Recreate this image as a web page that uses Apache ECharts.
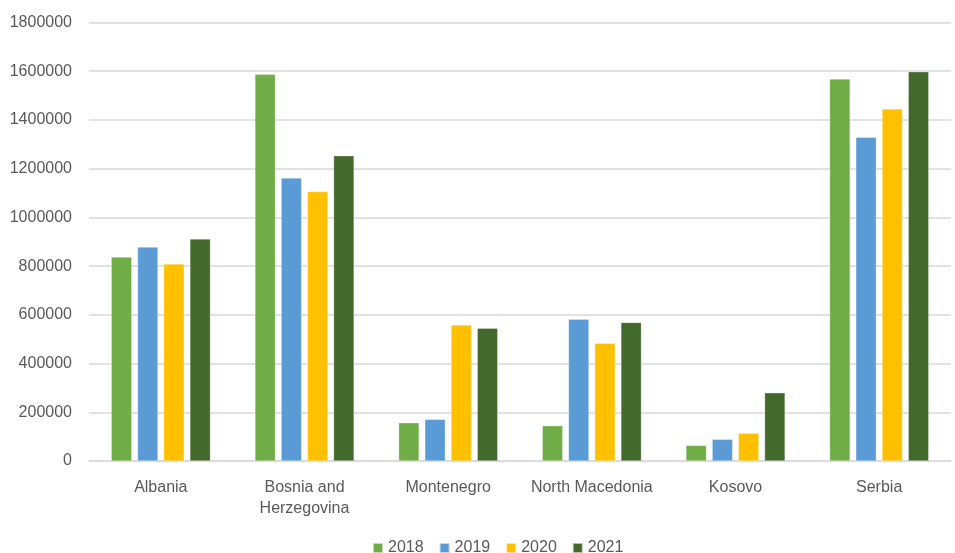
<!DOCTYPE html>
<html>
<head>
<meta charset="utf-8">
<script src="https://cdn.jsdelivr.net/npm/echarts@6/dist/echarts.min.js"></script>
<style>
  html, body { margin: 0; padding: 0; background: #fff; }
  #chart { width: 955px; height: 553px; }
</style>
</head>
<body>
<div id="chart"></div>
<script>
// Countries along the x axis
const countries = ['Albania', 'Bosnia and\nHerzegovina', 'Montenegro', 'North Macedonia', 'Kosovo', 'Serbia'];

// Yearly values per country
const years = ['2018', '2019', '2020', '2021'];
const values2018 = [837000, 1588000, 157000, 145000, 64000, 1568000];
const values2019 = [878000, 1162000, 171000, 582000, 89000, 1329000];
const values2020 = [809000, 1106000, 558000, 483000, 114000, 1445000];
const values2021 = [911000, 1253000, 545000, 569000, 280000, 1598000];

const yearColors = ['#70AD47', '#5B9BD5', '#FFC000', '#44692C'];
const seriesValues = [values2018, values2019, values2020, values2021];

const font = 'Liberation Sans, Arial, sans-serif';
const textColor = '#595959';

const chart = echarts.init(document.getElementById('chart'), null, { renderer: 'canvas' });

chart.setOption({
  animation: false,
  backgroundColor: '#ffffff',
  grid: { left: 89, right: 4, top: 22.5, bottom: 92, containLabel: false },
  legend: {
    data: years,
    left: 367,
    top: 535,
    icon: 'rect',
    itemWidth: 10,
    itemHeight: 10,
    itemGap: 15,
    textStyle: { color: textColor, fontSize: 16, fontFamily: font }
  },
  xAxis: {
    type: 'category',
    data: countries,
    axisLine: { lineStyle: { color: '#d9d9d9', width: 1.5 } },
    axisTick: { show: false },
    axisLabel: { color: textColor, fontSize: 16, fontFamily: font, margin: 16, lineHeight: 21, interval: 0 }
  },
  yAxis: {
    type: 'value',
    min: 0,
    max: 1800000,
    interval: 200000,
    axisLine: { show: false },
    axisTick: { show: false },
    axisLabel: { color: textColor, fontSize: 16, fontFamily: font, margin: 17, formatter: v => String(v) },
    splitLine: { lineStyle: { color: '#d9d9d9', width: 1.5 } }
  },
  series: years.map((y, i) => ({
    name: y,
    type: 'bar',
    data: seriesValues[i],
    barGap: '28%',
    barCategoryGap: '31%',
    itemStyle: { color: yearColors[i], borderColor: 'rgba(255,255,255,0.6)', borderWidth: 0.5 }
  }))
});
</script>
</body>
</html>
